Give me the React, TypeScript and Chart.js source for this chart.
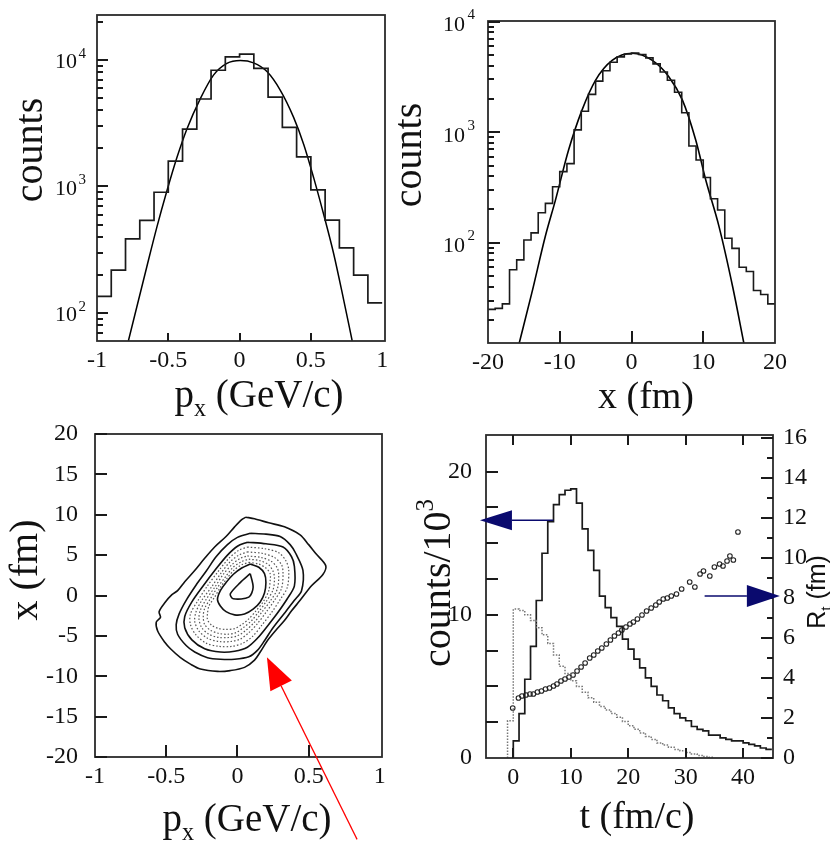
import React, { useEffect, useRef } from "react";
import { Chart, registerables } from "chart.js";
Chart.register(...registerables);

const SERIF = "'Liberation Serif', 'Times New Roman', serif";
const SANS = "'Liberation Sans', Arial, sans-serif";

// ---------- Panel 1: p_x distribution ----------
const pxEdges = [-1.0, -0.9, -0.8, -0.7, -0.6, -0.5, -0.4, -0.3, -0.2, -0.1, 0.0, 0.1, 0.2, 0.3, 0.4, 0.5, 0.6, 0.7, 0.8, 0.9, 1.0];
const pxCounts = [135, 218, 385, 540, 900, 1585, 2840, 4920, 8300, 10600, 11150, 8600, 5090, 2930, 1716, 940, 541, 327, 199, 120];
const pxFitX = [-0.78, -0.651, -0.581, -0.511, -0.44, -0.37, -0.276, -0.183, -0.089, 0.005, 0.098, 0.192, 0.286, 0.379, 0.45, 0.52, 0.59, 0.66, 0.73, 0.79];
const pxFitY = [60, 231, 473, 912, 1686, 2840, 4930, 7590, 9400, 9900, 9500, 8100, 5760, 3520, 2150, 1170, 600, 294, 127, 60];
const pxTicks = [-1, -0.5, 0, 0.5, 1];

// ---------- Panel 2: x distribution ----------
const xEdges = [-20, -19, -18, -17, -16, -15, -14, -13, -12, -11, -10, -9, -8, -7, -6, -5, -4, -3, -2, -1, 0, 1, 2, 3, 4, 5, 6, 7, 8, 9, 10, 11, 12, 13, 14, 15, 16, 17, 18, 19, 20];
const xCounts = [25, 25.5, 28, 57, 70, 106, 123, 187, 227, 321, 440, 520, 1050, 1550, 2200, 2900, 3600, 4300, 4800, 5100, 5200, 5050, 4700, 4150, 3500, 2950, 2300, 1500, 750, 560, 390, 250, 198, 110, 89, 60, 55, 37, 34, 28];
const xFitX = [-15.7, -13.9, -12.0, -10.6, -8.77, -6.9, -5.0, -2.7, 0.1, 2.9, 5.2, 7.1, 8.95, 10.35, 12.2, 14.1, 15.7];
const xFitY = [12, 35, 115, 243, 690, 1585, 2960, 4460, 5180, 4460, 3180, 1950, 850, 370, 140, 40, 12];
const xTicks = [-20, -10, 0, 10, 20];

const logTicks = [100, 1000, 10000];
const logExps = ["2", "3", "4"];

// ---------- Panel 3: phase-space contours (p_x, x) ----------
const ringA = [[0.06, 9.7], [0.12, 9.5], [0.22, 9.0], [0.33, 8.5], [0.44, 7.5], [0.50, 6.3], [0.55, 5.2], [0.62, 3.7], [0.60, 2.6], [0.52, 1.2], [0.44, -0.6], [0.38, -1.9], [0.33, -3.1], [0.27, -4.3], [0.21, -5.6], [0.16, -7.0], [0.12, -8.0], [0.05, -8.9], [-0.05, -9.3], [-0.14, -9.4], [-0.26, -9.1], [-0.33, -8.5], [-0.40, -7.7], [-0.47, -6.6], [-0.51, -5.8], [-0.56, -4.4], [-0.57, -3.3], [-0.54, -2.7], [-0.55, -2.0], [-0.51, -0.9], [-0.46, 0.1], [-0.42, 0.6], [-0.37, 1.7], [-0.30, 3.1], [-0.23, 4.6], [-0.16, 6.0], [-0.08, 7.3], [-0.02, 8.5], [0.03, 9.4], [0.06, 9.7]];
const ringB = [[0.09, 7.7], [0.20, 7.6], [0.30, 7.3], [0.37, 6.3], [0.41, 5.2], [0.46, 3.1], [0.45, 0.6], [0.40, -0.6], [0.33, -2.2], [0.25, -4.0], [0.19, -5.6], [0.14, -6.8], [0.08, -7.6], [-0.02, -7.9], [-0.12, -7.9], [-0.21, -7.7], [-0.30, -7.0], [-0.36, -6.2], [-0.42, -4.8], [-0.43, -3.6], [-0.41, -2.3], [-0.36, -0.6], [-0.29, 1.3], [-0.22, 3.0], [-0.15, 4.8], [-0.07, 6.3], [0.00, 7.2], [0.09, 7.7]];
const ringC = [[0.07, 6.6], [0.20, 6.4], [0.32, 6.0], [0.38, 4.8], [0.40, 3.6], [0.40, 1.2], [0.35, -0.4], [0.28, -2.2], [0.21, -3.8], [0.14, -5.3], [0.07, -6.4], [-0.02, -6.9], [-0.12, -7.0], [-0.23, -6.6], [-0.32, -5.5], [-0.37, -4.0], [-0.37, -2.6], [-0.32, -0.8], [-0.24, 1.2], [-0.15, 3.3], [-0.07, 5.0], [0.00, 6.1], [0.07, 6.6]];
const ringD = [[0.07, 6.0], [0.19, 5.8], [0.29, 5.3], [0.34, 4.3], [0.36, 3.2], [0.35, 1.0], [0.30, -0.5], [0.24, -2.1], [0.17, -3.7], [0.11, -5.0], [0.04, -5.9], [-0.04, -6.3], [-0.13, -6.3], [-0.22, -5.9], [-0.29, -4.9], [-0.33, -3.6], [-0.33, -2.3], [-0.28, -0.7], [-0.21, 1.2], [-0.13, 3.1], [-0.06, 4.6], [0.01, 5.6], [0.07, 6.0]];
const ringE = [[0.07, 5.4], [0.18, 5.2], [0.26, 4.7], [0.31, 3.8], [0.32, 2.8], [0.31, 0.9], [0.26, -0.6], [0.20, -2.1], [0.14, -3.5], [0.08, -4.6], [0.02, -5.4], [-0.05, -5.7], [-0.13, -5.7], [-0.21, -5.3], [-0.27, -4.4], [-0.30, -3.2], [-0.29, -2.0], [-0.25, -0.6], [-0.18, 1.1], [-0.11, 2.9], [-0.05, 4.2], [0.01, 5.0], [0.07, 5.4]];
const ringF = [[0.07, 4.9], [0.17, 4.7], [0.24, 4.2], [0.28, 3.4], [0.29, 2.5], [0.28, 0.8], [0.23, -0.7], [0.17, -2.1], [0.12, -3.3], [0.06, -4.3], [0.00, -5.0], [-0.06, -5.2], [-0.13, -5.2], [-0.20, -4.8], [-0.25, -4.0], [-0.27, -2.9], [-0.26, -1.8], [-0.22, -0.5], [-0.16, 1.0], [-0.10, 2.6], [-0.04, 3.8], [0.02, 4.6], [0.07, 4.9]];
const ringG = [[0.08, 4.5], [0.16, 4.3], [0.22, 3.8], [0.25, 3.0], [0.26, 2.2], [0.25, 0.7], [0.20, -0.8], [0.15, -2.0], [0.10, -3.1], [0.04, -4.0], [-0.01, -4.6], [-0.07, -4.8], [-0.13, -4.7], [-0.19, -4.3], [-0.23, -3.6], [-0.24, -2.6], [-0.23, -1.6], [-0.19, -0.4], [-0.14, 1.0], [-0.08, 2.4], [-0.03, 3.5], [0.03, 4.2], [0.08, 4.5]];
const ringG2 = [[0.08, 4.1], [0.15, 3.9], [0.20, 3.4], [0.23, 2.7], [0.23, 1.9], [0.22, 0.6], [0.18, -0.8], [0.13, -1.9], [0.08, -2.9], [0.03, -3.6], [-0.02, -4.1], [-0.08, -4.2], [-0.13, -4.1], [-0.18, -3.7], [-0.21, -3.0], [-0.21, -2.2], [-0.20, -1.3], [-0.16, -0.2], [-0.12, 1.0], [-0.07, 2.2], [-0.02, 3.2], [0.03, 3.8], [0.08, 4.1]];
const ringH = [[0.09, 3.9], [0.15, 3.5], [0.19, 2.7], [0.20, 1.6], [0.19, 0.3], [0.16, -0.8], [0.11, -1.7], [0.05, -2.3], [-0.02, -2.4], [-0.08, -2.0], [-0.12, -1.3], [-0.14, -0.5], [-0.12, 0.6], [-0.08, 1.6], [-0.03, 2.6], [0.03, 3.4], [0.09, 3.9]];
const ringCore = [[0.09, 2.7], [0.11, 1.0], [0.08, -0.2], [-0.03, -0.4], [-0.05, 0.2], [0.02, 1.6], [0.09, 2.7]];
const solidRings = [ringA, ringB, ringC, ringH, ringCore];
const dottedRings = [ringD, ringE, ringF, ringG, ringG2];
const phaseYTicks = [-20, -15, -10, -5, 0, 5, 10, 15, 20];

// ---------- Panel 4: time distributions and R_t ----------
const tEdges = [0, 1, 2, 3, 4, 5, 6, 7, 8, 9, 10, 11, 12, 13, 14, 15, 16, 17, 18, 19, 20, 21, 22, 23, 24, 25, 26, 27, 28, 29, 30, 31, 32, 33, 34, 35, 36, 37, 38, 39, 40, 41, 42, 43, 44, 45];
const tCounts = [1.2, 3.1, 5.5, 7.8, 11.0, 14.3, 16.5, 17.7, 18.4, 18.7, 18.8, 17.8, 16.0, 14.5, 13.1, 11.3, 10.5, 9.8, 9.2, 8.3, 7.6, 6.9, 6.3, 5.6, 5.0, 4.4, 4.0, 3.5, 3.1, 2.8, 2.6, 2.2, 2.0, 1.9, 1.6, 1.6, 1.4, 1.3, 1.2, 1.2, 1.05, 0.95, 0.85, 0.7, 0.6];
const tDotEdges = [-1, 0, 1, 2, 3, 4, 5, 6, 7, 8, 9, 10, 11, 12, 13, 14, 15, 16, 17, 18, 19, 20, 21, 22, 23, 24, 25, 26, 27, 28, 29, 30, 31, 32, 33, 34, 35];
const tDotCounts = [2.6, 10.4, 10.3, 10.0, 9.6, 9.1, 8.6, 8.0, 7.2, 6.4, 5.9, 5.4, 5.0, 4.6, 4.2, 3.9, 3.6, 3.35, 3.1, 2.85, 2.55, 2.25, 2.0, 1.75, 1.5, 1.3, 1.05, 0.9, 0.75, 0.6, 0.5, 0.38, 0.28, 0.18, 0.1, 0.05];
const rtT = [-0.1, 0.9, 1.5, 2.2, 2.9, 3.5, 4.2, 4.9, 5.6, 6.3, 7.0, 7.6, 8.3, 9.0, 9.7, 10.4, 11.1, 11.8, 12.5, 13.3, 14.0, 14.7, 15.4, 16.2, 16.9, 17.6, 18.3, 18.9, 19.6, 20.3, 20.9, 21.6, 22.4, 23.2, 24.0, 24.8, 25.4, 26.1, 26.8, 27.5, 28.4, 29.3, 30.7, 31.6, 32.5, 33.1, 34.2, 35.0, 35.9, 36.5, 37.2, 37.7, 38.3, 39.1];
const rtR = [2.5, 3.0, 3.1, 3.15, 3.2, 3.2, 3.3, 3.35, 3.45, 3.5, 3.6, 3.7, 3.85, 3.95, 4.05, 4.15, 4.35, 4.55, 4.75, 5.0, 5.15, 5.35, 5.5, 5.7, 5.9, 6.1, 6.25, 6.4, 6.55, 6.7, 6.8, 6.95, 7.15, 7.35, 7.5, 7.65, 7.8, 7.95, 8.0, 8.1, 8.2, 8.45, 8.8, 8.55, 9.2, 9.35, 9.1, 9.55, 9.7, 9.6, 9.85, 10.1, 9.9, 11.3];
const tTicks = [0, 10, 20, 30, 40];
const cntTicks = [0, 10, 20];
const rtTicks = [0, 2, 4, 6, 8, 10, 12, 14, 16];

// ---------- helpers ----------
function stepData(edges: number[], vals: number[], fromZero = false) {
  const pts: { x: number; y: number }[] = [];
  if (fromZero) pts.push({ x: edges[0], y: 0 });
  vals.forEach((v, i) => pts.push({ x: edges[i], y: v }));
  pts.push({ x: edges[vals.length], y: vals[vals.length - 1] });
  return pts;
}
function xy(xs: number[], ys: number[]) {
  return xs.map((x, i) => ({ x, y: ys[i] }));
}
function logMinor(lo: number, hi: number) {
  const out: number[] = [];
  for (let d = lo; d < hi; d *= 10) for (let k = 2; k <= 9; k++) out.push(d * k);
  return out;
}

type Part = { t: string; sub?: boolean; sup?: boolean };
type Title = { parts: Part[]; x: number; y: number; rot?: boolean; size: number; family?: string };
type Mark = { scale: string; side: string; values: number[]; len: number };
type LogLabel = { scale: string; values: number[]; exps: string[]; x: number; size: number; expSize: number; dy: number; edy: number; gap: number };
type Arrow = { xs: string; ys: string; from: number[]; to: number[]; head: number; half: number; lw: number; color: string };
type Spec = { marks?: Mark[]; logLabels?: LogLabel[]; titles?: Title[]; arrows?: Arrow[] };

function drawTitle(ctx: CanvasRenderingContext2D, tt: Title) {
  ctx.save();
  ctx.translate(tt.x, tt.y);
  if (tt.rot) ctx.rotate(-Math.PI / 2);
  ctx.fillStyle = "#111";
  ctx.textBaseline = "alphabetic";
  ctx.textAlign = "left";
  const fam = tt.family || SERIF;
  const items = tt.parts.map((p) => {
    const s = p.sub || p.sup ? tt.size * 0.62 : tt.size;
    ctx.font = `${s}px ${fam}`;
    return { p, s, w: ctx.measureText(p.t).width };
  });
  const total = items.reduce((a, b) => a + b.w, 0);
  let cx = -total / 2;
  for (const it of items) {
    ctx.font = `${it.s}px ${fam}`;
    const dy = it.p.sub ? tt.size * 0.22 : it.p.sup ? -tt.size * 0.42 : 0;
    ctx.fillText(it.p.t, cx, dy);
    cx += it.w;
  }
  ctx.restore();
}

function makeDecor(spec: Spec) {
  return {
    id: "decor",
    afterDraw(chart: any) {
      const ctx: CanvasRenderingContext2D = chart.ctx;
      const ca = chart.chartArea;
      ctx.save();
      ctx.setLineDash([]);
      ctx.globalAlpha = 1;
      ctx.strokeStyle = "#2b2b2b";
      ctx.lineWidth = 1.8;
      ctx.strokeRect(ca.left, ca.top, ca.right - ca.left, ca.bottom - ca.top);
      ctx.fillStyle = "#1a1a1a";
      for (const tk of spec.marks || []) {
        const sc = chart.scales[tk.scale];
        for (const v of tk.values) {
          const p = Math.round(sc.getPixelForValue(v));
          if (tk.side === "left") ctx.fillRect(ca.left, p - 1, tk.len, 2);
          else if (tk.side === "right") ctx.fillRect(ca.right - tk.len, p - 1, tk.len, 2);
          else if (tk.side === "bottom") ctx.fillRect(p - 1, ca.bottom - tk.len, 2, tk.len);
          else ctx.fillRect(p - 1, ca.top, 2, tk.len);
        }
      }
      for (const lb of spec.logLabels || []) {
        const sc = chart.scales[lb.scale];
        ctx.fillStyle = "#111";
        lb.values.forEach((v, i) => {
          const p = sc.getPixelForValue(v);
          ctx.font = `${lb.size}px ${SERIF}`;
          ctx.textAlign = "right";
          ctx.textBaseline = "middle";
          ctx.fillText("10", lb.x, p + lb.dy);
          ctx.font = `${lb.expSize}px ${SERIF}`;
          ctx.textAlign = "left";
          ctx.fillText(lb.exps[i], lb.x + lb.gap, p + lb.edy);
        });
      }
      for (const tt of spec.titles || []) drawTitle(ctx, tt);
      for (const a of spec.arrows || []) {
        const xs = chart.scales[a.xs], ys = chart.scales[a.ys];
        const x1 = xs.getPixelForValue(a.from[0]), y1 = ys.getPixelForValue(a.from[1]);
        const x2 = xs.getPixelForValue(a.to[0]), y2 = ys.getPixelForValue(a.to[1]);
        const dx = x2 - x1, dy = y2 - y1, L = Math.hypot(dx, dy);
        const ux = dx / L, uy = dy / L;
        const bx = x2 - ux * a.head, by = y2 - uy * a.head;
        ctx.strokeStyle = a.color;
        ctx.lineWidth = a.lw;
        ctx.beginPath(); ctx.moveTo(x1, y1); ctx.lineTo(bx, by); ctx.stroke();
        ctx.fillStyle = a.color;
        ctx.beginPath();
        ctx.moveTo(x2, y2);
        ctx.lineTo(bx - uy * a.half, by + ux * a.half);
        ctx.lineTo(bx + uy * a.half, by - ux * a.half);
        ctx.closePath();
        ctx.fill();
      }
      ctx.restore();
    },
  };
}

const W = 830, H = 841;
const TICK_FONT = 24;

function xAxis(min: number, max: number, ticks: number[], height: number) {
  return {
    type: "linear", min, max,
    grid: { display: false, drawTicks: false }, border: { display: false },
    afterFit: (s: any) => { s.height = height; },
    afterBuildTicks: (s: any) => { s.ticks = ticks.map((v) => ({ value: v })); },
    ticks: { font: { family: SERIF, size: TICK_FONT }, color: "#111", padding: 5, maxRotation: 0, minRotation: 0, autoSkip: false, callback: (v: any) => String(v) },
  };
}
function yAxis(min: number, max: number, ticks: number[], width: number, pad: number, position = "left") {
  return {
    type: "linear", min, max, position,
    grid: { display: false, drawTicks: false }, border: { display: false },
    afterFit: (s: any) => { s.width = width; },
    afterBuildTicks: (s: any) => { s.ticks = ticks.map((v) => ({ value: v })); },
    ticks: { font: { family: SERIF, size: TICK_FONT }, color: "#111", padding: pad, autoSkip: false, callback: (v: any) => String(v) },
  };
}
function logAxis(min: number, max: number, width: number) {
  return {
    type: "logarithmic", min, max,
    grid: { display: false, drawTicks: false }, border: { display: false },
    afterFit: (s: any) => { s.width = width; },
    afterBuildTicks: (s: any) => { s.ticks = logTicks.map((v) => ({ value: v })); },
    ticks: { display: false },
  };
}
const baseOpts = { animation: false, responsive: false, devicePixelRatio: 1, events: [] as string[] };
const noLegend = { legend: { display: false }, tooltip: { enabled: false } };

function cfgP1(): any {
  return {
    type: "line",
    data: {
      datasets: [
        { data: stepData(pxEdges, pxCounts), stepped: true, borderColor: "#1a1a1a", borderWidth: 1.7, pointRadius: 0, fill: false },
        { data: xy(pxFitX, pxFitY), borderColor: "#000", borderWidth: 1.5, pointRadius: 0, cubicInterpolationMode: "monotone", fill: false },
      ],
    },
    options: {
      ...baseOpts,
      layout: { padding: { left: 0, top: 15, right: W - 385, bottom: 0 } },
      scales: { x: xAxis(-1, 1.02, pxTicks, H - 341), y: logAxis(60, 22700, 97) },
      plugins: { ...noLegend },
    },
    plugins: [makeDecor({
      marks: [
        { scale: "y", side: "left", values: logTicks, len: 11 },
        { scale: "y", side: "left", values: logMinor(10, 20000).filter((v) => v > 60 && v < 22700), len: 6 },
        { scale: "x", side: "bottom", values: [-0.5, 0, 0.5], len: 8 },
      ],
      logLabels: [{ scale: "y", values: logTicks, exps: logExps, x: 77, size: 22, expSize: 15, dy: 2.5, edy: -6, gap: 1.5 }],
      titles: [
        { parts: [{ t: "counts" }], x: 42, y: 150, rot: true, size: 40 },
        { parts: [{ t: "p" }, { t: "x", sub: true }, { t: " (GeV/c)" }], x: 259, y: 407, size: 39 },
      ],
    })],
  };
}

function cfgP2(): any {
  return {
    type: "line",
    data: {
      datasets: [
        { data: stepData(xEdges, xCounts), stepped: true, borderColor: "#1a1a1a", borderWidth: 1.6, pointRadius: 0, fill: false },
        { data: xy(xFitX, xFitY), borderColor: "#000", borderWidth: 1.6, pointRadius: 0, cubicInterpolationMode: "monotone", fill: false },
      ],
    },
    options: {
      ...baseOpts,
      layout: { padding: { left: 0, top: 21, right: W - 775, bottom: 0 } },
      scales: { x: xAxis(-20, 20, xTicks, H - 343), y: logAxis(12.4, 10140, 488) },
      plugins: { ...noLegend },
    },
    plugins: [makeDecor({
      marks: [
        { scale: "y", side: "left", values: logTicks, len: 12 },
        { scale: "y", side: "left", values: logMinor(10, 10000).filter((v) => v > 12.4), len: 6 },
        { scale: "x", side: "bottom", values: [-10, 0, 10], len: 12 },
      ],
      logLabels: [{ scale: "y", values: logTicks, exps: logExps, x: 465, size: 22, expSize: 15, dy: 3.5, edy: -6.5, gap: 2.5 }],
      titles: [
        { parts: [{ t: "counts" }], x: 421, y: 155, rot: true, size: 40 },
        { parts: [{ t: "x (fm)" }], x: 646, y: 408, size: 38 },
      ],
    })],
  };
}

function cfgP3(): any {
  const ds: any[] = [];
  dottedRings.forEach((r) => ds.push({ data: r.map(([x, y]) => ({ x, y })), borderColor: "#555", borderWidth: 1.2, borderDash: [1.5, 2], pointRadius: 0, tension: 0.3, fill: false }));
  solidRings.forEach((r) => ds.push({ data: r.map(([x, y]) => ({ x, y })), borderColor: "#111", borderWidth: 1.6, pointRadius: 0, tension: 0.3, fill: false }));
  return {
    type: "line",
    data: { datasets: ds },
    options: {
      ...baseOpts,
      layout: { padding: { left: 0, top: 434, right: W - 382, bottom: 0 } },
      scales: { x: xAxis(-1, 1.015, pxTicks, H - 757), y: yAxis(-20, 20, phaseYTicks, 95, 17) },
      plugins: { ...noLegend },
    },
    plugins: [makeDecor({
      marks: [
        { scale: "y", side: "left", values: phaseYTicks, len: 12 },
        { scale: "x", side: "bottom", values: [-0.5, 0, 0.5], len: 12 },
      ],
      titles: [
        { parts: [{ t: "x (fm)" }], x: 37, y: 570, rot: true, size: 40 },
        { parts: [{ t: "p" }, { t: "x", sub: true }, { t: " (GeV/c)" }], x: 247, y: 831, size: 39 },
      ],
      arrows: [{ xs: "x", ys: "y", from: [0.84, -30.2], to: [0.207, -7.64], head: 32, half: 12, lw: 1.2, color: "#ff0000" }],
    })],
  };
}

function cfgP4(): any {
  return {
    type: "line",
    data: {
      datasets: [
        { data: stepData(tDotEdges, tDotCounts, true), stepped: true, yAxisID: "y", borderColor: "#777", borderWidth: 1.5, borderDash: [1.5, 1.5], pointRadius: 0, fill: false },
        { data: stepData(tEdges, tCounts, true), stepped: true, yAxisID: "y", borderColor: "#1a1a1a", borderWidth: 1.7, pointRadius: 0, fill: false },
        { data: xy(rtT, rtR), yAxisID: "y1", showLine: false, pointStyle: "circle", pointRadius: 2.3, pointBorderWidth: 1.1, pointBorderColor: "#222", pointBackgroundColor: "rgba(0,0,0,0)" },
      ],
    },
    options: {
      ...baseOpts,
      layout: { padding: { left: 0, top: 435, right: 0, bottom: 0 } },
      scales: {
        x: xAxis(-4.75, 45.2, tTicks, H - 758),
        y: yAxis(0, 22.56, cntTicks, 486, 14),
        y1: yAxis(0, 16.15, rtTicks, W - 773, 10, "right"),
      },
      plugins: { ...noLegend },
    },
    plugins: [makeDecor({
      marks: [
        { scale: "y", side: "left", values: [2.5, 5, 7.5, 10, 12.5, 15, 17.5, 20], len: 12 },
        { scale: "y1", side: "right", values: rtTicks, len: 12 },
        { scale: "y1", side: "right", values: [1, 3, 5, 7, 9, 11, 13, 15], len: 6 },
        { scale: "x", side: "bottom", values: tTicks, len: 10 },
        { scale: "x", side: "top", values: tTicks, len: 10 },
      ],
      titles: [
        { parts: [{ t: "counts/10" }, { t: "3", sup: true }], x: 450, y: 583, rot: true, size: 40 },
        { parts: [{ t: "R" }, { t: "t", sub: true }, { t: " (fm)" }], x: 825, y: 592, rot: true, size: 25, family: SANS },
        { parts: [{ t: "t (fm/c)" }], x: 637, y: 828, size: 38 },
      ],
      arrows: [
        { xs: "x", ys: "y", from: [6.96, 16.6], to: [-5.8, 16.6], head: 32, half: 10, lw: 1.5, color: "#0a0a6e" },
        { xs: "x", ys: "y1", from: [33.3, 8.1], to: [46.4, 8.1], head: 33, half: 11, lw: 1.5, color: "#0a0a6e" },
      ],
    })],
  };
}

function Panel({ make }: { make: () => any }) {
  const ref = useRef<HTMLCanvasElement>(null);
  useEffect(() => {
    const chart = new Chart(ref.current as HTMLCanvasElement, make());
    return () => chart.destroy();
  }, []);
  return <canvas ref={ref} width={W} height={H} style={{ position: "absolute", left: 0, top: 0, width: W, height: H }} />;
}

export default function App() {
  return (
    <div style={{ position: "absolute", left: 0, top: 0, width: W, height: H, background: "#fff" }}>
      <Panel make={cfgP1} />
      <Panel make={cfgP2} />
      <Panel make={cfgP3} />
      <Panel make={cfgP4} />
    </div>
  );
}
